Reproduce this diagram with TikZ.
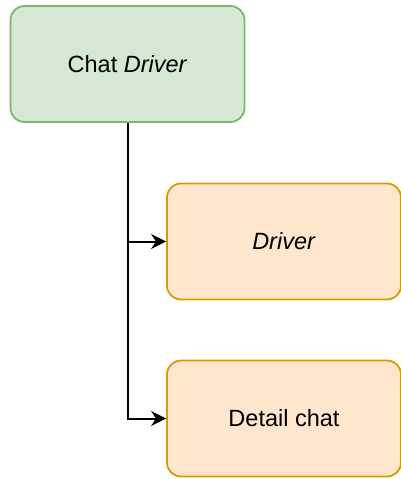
\documentclass[tikz,border=0pt]{standalone}
\usepackage{fontspec}
\setmainfont{Liberation Sans}
\usetikzlibrary{arrows.meta, positioning}

\begin{document}
\begin{tikzpicture}[
            x = 1pt, y = -1pt, % pixel-like units, y down
            > = {Stealth[length=15pt,width=15pt]}, % arrow head style
            font = \fontsize{23.5}{28}\selectfont,
            link/.style = {draw, line width = 2pt} % connector style
        ]

        \tikzstyle{box}=[
            draw,
            line width = 1.8pt,
            rounded corners = 14pt,
            minimum width = 234pt,
            minimum height = 116pt,
            inner sep = 0pt
        ]
        \tikzstyle{green box}=[box, draw = {rgb,255:red,130;green,179;blue,102}, fill = {rgb,255:red,213;green,232;blue,212}]
        \tikzstyle{orange box}=[box, draw = {rgb,255:red,215;green,155;blue,0}, fill = {rgb,255:red,255;green,230;blue,204}]

        \useasboundingbox (0,0) rectangle (400,479);

        \node[green box] (chat) at (127.5,64) {Chat \textit{Driver}};
        \node[orange box] (driver) at (284,241.5) {\textit{Driver}};
        \node[orange box] (detail) at (284,418.5) {Detail chat};

	\draw[link, ->] (chat.south) |- (detail.west);
	\draw[link, ->] (chat.south |- driver.west) -- (driver.west);
    \end{tikzpicture}
\end{document}
